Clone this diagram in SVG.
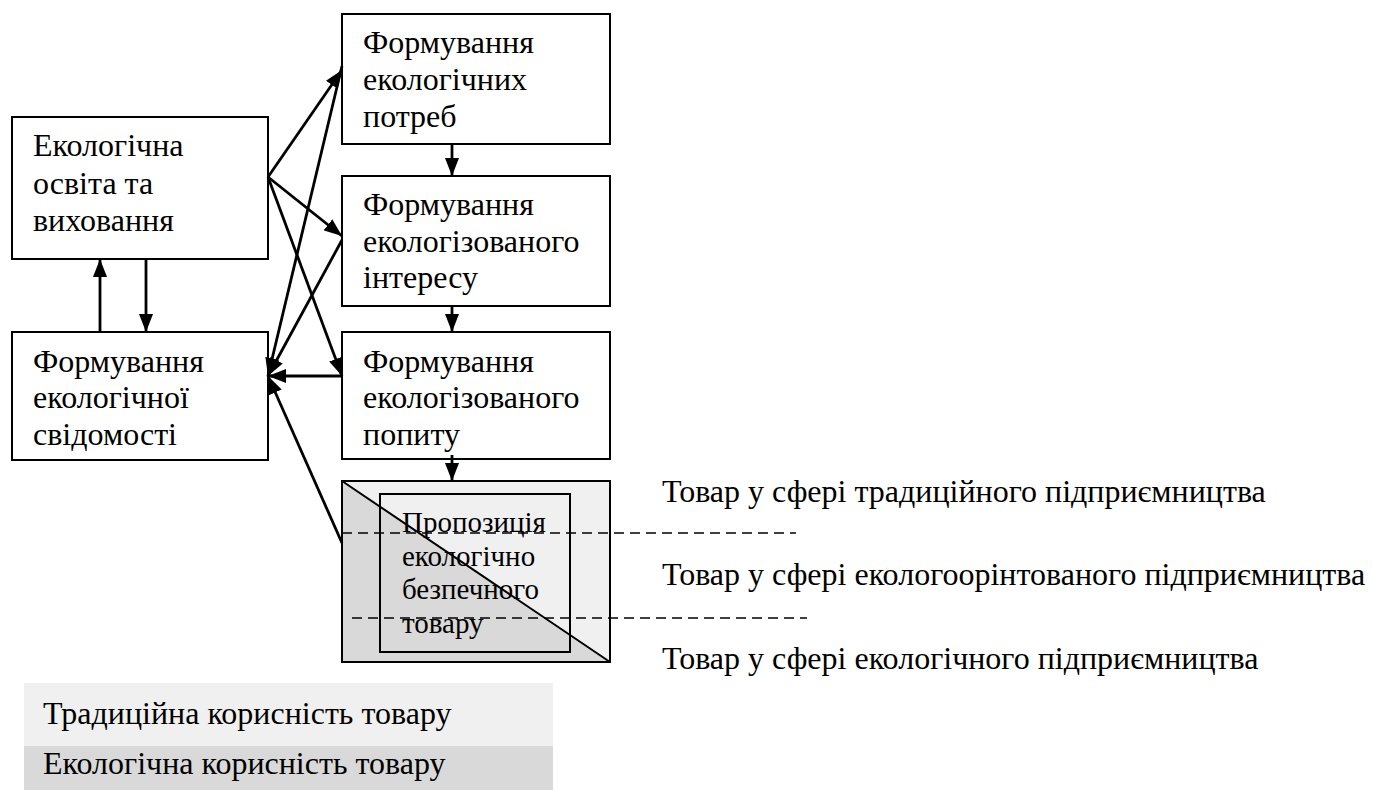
<svg xmlns="http://www.w3.org/2000/svg" width="1373" height="790" viewBox="0 0 1373 790">
<style>
.box{fill:#ffffff;stroke:#000;stroke-width:2}
text{font-family:"Liberation Serif","Times New Roman",serif;fill:#000}
.t{font-size:32px}
.s{font-size:29px}
.r{font-size:32px}
.c{stroke:#000;stroke-width:2.8;fill:none}
.d{stroke:#000;stroke-width:1.5;stroke-dasharray:10,6;fill:none}
</style>
<defs>
<marker id="ah" markerUnits="userSpaceOnUse" markerWidth="20" markerHeight="14" refX="18" refY="7" orient="auto">
<path d="M0,0 L18,7 L0,14 z" fill="#000"/>
</marker>
</defs>
<rect width="1373" height="790" fill="#fff"/>

<g id="legend">
<rect x="24" y="683" width="529" height="63" fill="#f0f0f0"/>
<rect x="24" y="746" width="529" height="44" fill="#d9d9d9"/>
<text class="r" x="43" y="724">Традиційна корисність товару</text>
<text class="r" x="43" y="774">Екологічна корисність товару</text>
</g>

<g id="n-osvita">
<rect class="box" x="12" y="117" width="256" height="142"/>
<text class="t" x="33" y="156">Екологічна</text>
<text class="t" x="33" y="194">освіта та</text>
<text class="t" x="33" y="231">виховання</text>
</g>
<g id="n-svidomist">
<rect class="box" x="12" y="332" width="256" height="128"/>
<text class="t" x="33" y="372">Формування</text>
<text class="t" x="33" y="408">екологічної</text>
<text class="t" x="33" y="445">свідомості</text>
</g>
<g id="n-potreby">
<rect class="box" x="342" y="14" width="268" height="130"/>
<text class="t" x="363" y="53">Формування</text>
<text class="t" x="363" y="90">екологічних</text>
<text class="t" x="363" y="127">потреб</text>
</g>
<g id="n-interes">
<rect class="box" x="342" y="176" width="268" height="130"/>
<text class="t" x="363" y="215">Формування</text>
<text class="t" x="363" y="252">екологізованого</text>
<text class="t" x="363" y="288">інтересу</text>
</g>
<g id="n-popyt">
<rect class="box" x="342" y="332" width="268" height="127"/>
<text class="t" x="363" y="372">Формування</text>
<text class="t" x="363" y="408">екологізованого</text>
<text class="t" x="363" y="445">попиту</text>
</g>
<g id="n-propozytsia">
<polygon points="342,481 610,481 610,662" fill="#f0f0f0"/>
<polygon points="342,481 342,662 610,662" fill="#d9d9d9"/>
<rect x="342" y="481" width="268" height="181" fill="none" stroke="#000" stroke-width="2"/>
<rect x="380" y="494" width="190" height="158" fill="none" stroke="#000" stroke-width="2"/>
<line x1="342" y1="481" x2="610" y2="662" stroke="#000" stroke-width="2"/>
<text class="s" x="402" y="532">Пропозиція</text>
<text class="s" x="402" y="566">екологічно</text>
<text class="s" x="402" y="599">безпечного</text>
<text class="s" x="402" y="633">товару</text>
<line class="d" x1="342" y1="533" x2="796" y2="533"/>
<line class="d" x1="352" y1="618" x2="807" y2="618"/>
</g>
<g id="labels">
<text class="r" x="662" y="502">Товар у сфері традиційного підприємництва</text>
<text class="r" x="662" y="585">Товар у сфері екологоорінтованого підприємництва</text>
<text class="r" x="662" y="669">Товар у сфері екологічного підприємництва</text>
</g>

<g id="connectors">
<line class="c" x1="100" y1="332" x2="100" y2="259" marker-end="url(#ah)"/>
<line class="c" x1="146" y1="259" x2="146" y2="332" marker-end="url(#ah)"/>
<line class="c" x1="268" y1="177" x2="342" y2="70" marker-end="url(#ah)"/>
<line class="c" x1="268" y1="177" x2="342" y2="236" marker-end="url(#ah)"/>
<line class="c" x1="268" y1="177" x2="342" y2="376" marker-end="url(#ah)"/>
<line class="c" x1="342" y1="66" x2="268" y2="376" marker-end="url(#ah)"/>
<line class="c" x1="342" y1="240" x2="268" y2="376" marker-end="url(#ah)"/>
<line class="c" x1="342" y1="376" x2="268" y2="376" marker-end="url(#ah)"/>
<line class="c" x1="342" y1="543" x2="268" y2="376" marker-end="url(#ah)"/>
<line class="c" x1="452" y1="144" x2="452" y2="176" marker-end="url(#ah)"/>
<line class="c" x1="452" y1="306" x2="452" y2="332" marker-end="url(#ah)"/>
<line class="c" x1="452" y1="455" x2="452" y2="481" marker-end="url(#ah)"/>
</g>
</svg>
